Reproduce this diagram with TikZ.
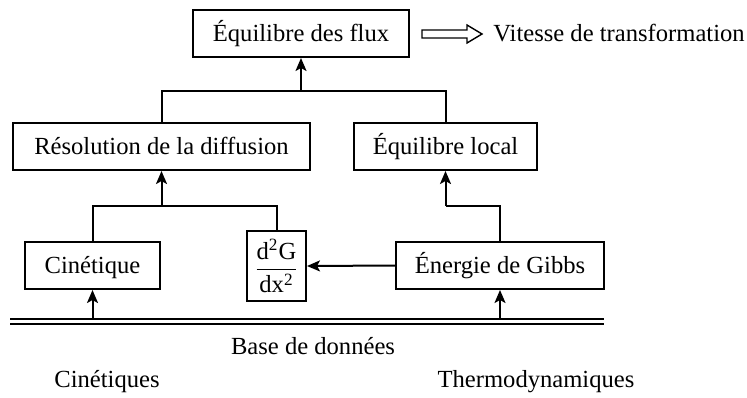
\documentclass[tikz,border=0pt]{standalone}
\usepackage{amsmath}
\usepackage{fontspec}
\setmainfont{Liberation Serif}
\usetikzlibrary{arrows.meta}
\begin{document}
\begin{tikzpicture}[x=0.5pt,y=-0.5pt,
  every node/.style={font=\fontsize{12.3}{14}\selectfont},
  box/.style={draw,line width=1pt,inner sep=0pt,minimum height=23.5pt,text height=10pt,text depth=2.5pt},
  lbl/.style={inner sep=0pt,text height=10pt,text depth=2.5pt},
  conn/.style={line width=1pt},
  arr/.style={conn,-{Stealth[length=6.5pt,width=5.5pt,inset=1.5pt]}},
  blockarrow/.style={line width=0.7pt}]
\useasboundingbox (0,0) rectangle (747,397);
\node[box,minimum width=108pt] (flux) at (301,33.5) {Équilibre des flux};
\node[lbl,anchor=west] (vit) at (493,33.5) {Vitesse de transformation};
\node[box,minimum width=148.5pt] (reso) at (161.5,146.5) {Résolution de la diffusion};
\node[box,minimum width=91.5pt] (eqloc) at (445.5,146.5) {Équilibre local};
\node[box,minimum width=67.5pt] (cin) at (92.5,265.5) {Cinétique};
\node[draw,line width=1pt,inner sep=0pt,minimum width=29.5pt,minimum height=35pt] (d2g) at (276.5,266) {$\dfrac{\mathrm{d^2G}}{\mathrm{dx^2}}$};
\node[box,minimum width=104pt] (gibbs) at (500,265.5) {Énergie de Gibbs};
\node[lbl] (base) at (313,347) {Base de données};
\node[lbl] (cinq) at (107,380) {Cinétiques};
\node[lbl] (thermo) at (536,380) {Thermodynamiques};
\coordinate (dbL) at (10,321.5);
\coordinate (dbR) at (604,321.5);
\coordinate (j1) at (301,91);
\coordinate (j2) at (161.5,206);
\coordinate (dbA) at (92.5,321.5);
\coordinate (dbB) at (500,321.5);
% database line
\draw[line width=1pt,double,double distance=1.5pt] (dbL) -- (dbR);
% arrows from database
\draw[arr] ([yshift=1pt]dbA) -- (cin.south);
\draw[arr] ([yshift=1pt]dbB) -- (gibbs.south);
% lower junction
\draw[conn] (cin.north) -- (cin.north |- j2) -- (d2g.north |- j2) -- (d2g.north);
\draw[arr] (j2) -- (reso.south);
\draw[conn] (gibbs.north) -- (gibbs.north |- j2) -- (eqloc.south |- j2);
\draw[arr] (eqloc.south |- j2) -- (eqloc.south);
\draw[arr] (gibbs.west) -- (d2g.east);
% upper junction
\draw[conn] (reso.north) -- (reso.north |- j1) -- (eqloc.north |- j1) -- (eqloc.north);
\draw[arr] (j1) -- (flux.south);
% open block arrow
\draw[blockarrow] (422,30) -- (467,30) -- (467,25) -- (482,34) -- (467,43) -- (467,38) -- (422,38) -- cycle;
\end{tikzpicture}
\end{document}
